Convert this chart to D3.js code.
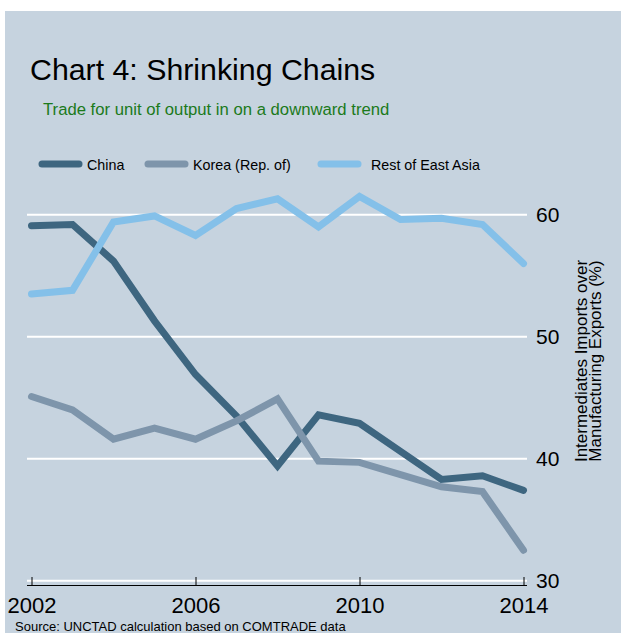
<!DOCTYPE html>
<html>
<head>
<meta charset="utf-8">
<script src="https://cdn.jsdelivr.net/npm/d3@7"></script>
<style>
  html, body { margin: 0; padding: 0; background: #fff; }
  svg { display: block; font-family: "Liberation Sans", Arial, sans-serif; }
</style>
</head>
<body>
<div id="chart"></div>
<script>
// data
const years = [2002, 2003, 2004, 2005, 2006, 2007, 2008, 2009, 2010, 2011, 2012, 2013, 2014];
const china = [59.1, 59.2, 56.2, 51.3, 46.9, 43.5, 39.4, 43.6, 42.9, 40.6, 38.3, 38.6, 37.4];
const korea = [45.1, 44.0, 41.6, 42.5, 41.6, 43.1, 44.9, 39.8, 39.7, 38.7, 37.7, 37.3, 32.5];
const restEastAsia = [53.5, 53.8, 59.4, 59.9, 58.3, 60.5, 61.3, 59.0, 61.5, 59.6, 59.7, 59.2, 56.0];
const seriesNames = ["China", "Korea (Rep. of)", "Rest of East Asia"];
const seriesColors = ["#3e6680", "#7e95ab", "#84c0e9"];
const yTicks = [30, 40, 50, 60];
const xTicks = [2002, 2006, 2010, 2014];

const W = 621, H = 633;
const svg = d3.select("#chart").append("svg")
  .attr("width", W)
  .attr("height", H);

// panel background
svg.append("rect")
  .attr("x", 5).attr("y", 11)
  .attr("width", W - 5).attr("height", H - 11)
  .attr("fill", "#c6d3df");

// titles
svg.append("text")
  .attr("x", 30).attr("y", 80)
  .attr("font-size", 30.3)
  .attr("fill", "#000")
  .text("Chart 4: Shrinking Chains");

svg.append("text")
  .attr("x", 43).attr("y", 115)
  .attr("font-size", 16.7)
  .attr("fill", "#1b7a1b")
  .text("Trade for unit of output in on a downward trend");

// scales
const x = d3.scaleLinear().domain([2002, 2014]).range([31.5, 523.5]);
const y = d3.scaleLinear().domain([30, 60]).range([580.7, 214.7]);

// gridlines
svg.append("g")
  .selectAll("line")
  .data(yTicks)
  .join("line")
  .attr("x1", 27).attr("x2", 527)
  .attr("y1", d => y(d)).attr("y2", d => y(d))
  .attr("stroke", "#fff")
  .attr("stroke-width", 2);

// y axis on the right (labels only)
const yAxis = svg.append("g")
  .attr("transform", "translate(527,0)")
  .call(d3.axisRight(y).tickValues(yTicks).tickSize(0).tickPadding(9));
yAxis.select(".domain").remove();
yAxis.selectAll("text")
  .attr("font-size", 21)
  .attr("font-family", "Liberation Sans, Arial, sans-serif")
  .attr("fill", "#000");

// x axis at the bottom, ticks pointing up
const xAxis = svg.append("g")
  .attr("transform", "translate(0,585)")
  .call(d3.axisBottom(x).tickValues(xTicks).tickFormat(d3.format("d")).tickSize(-8).tickSizeOuter(0).tickPadding(12));
xAxis.select(".domain").attr("d", "M27,0.5H527");
xAxis.selectAll("line").attr("stroke", "#000");
xAxis.selectAll("text")
  .attr("font-size", 22)
  .attr("font-family", "Liberation Sans, Arial, sans-serif")
  .attr("fill", "#000");

// y axis title
const yTitle = svg.append("text")
  .attr("transform", "translate(587,361) rotate(-90)")
  .attr("text-anchor", "middle")
  .attr("font-size", 17)
  .attr("fill", "#000");
yTitle.append("tspan").attr("x", 0).attr("dy", 0).text("Intermediates Imports over");
yTitle.append("tspan").attr("x", 0).attr("dy", 14).text("Manufacturing Exports (%)");

// lines
const series = [china, korea, restEastAsia];
const line = d3.line()
  .x((d, i) => x(years[i]))
  .y(d => y(d));

svg.append("g")
  .selectAll("path")
  .data(series)
  .join("path")
  .attr("d", d => line(d))
  .attr("fill", "none")
  .attr("stroke", (d, i) => seriesColors[i])
  .attr("stroke-width", 7)
  .attr("stroke-linecap", "round")
  .attr("stroke-linejoin", "miter");

// legend
const legendX = [42, 148, 321];
const legend = svg.append("g")
  .selectAll("g")
  .data(seriesNames)
  .join("g")
  .attr("transform", (d, i) => `translate(${legendX[i]},164)`);
legend.append("line")
  .attr("x1", 0).attr("x2", 37)
  .attr("stroke", (d, i) => seriesColors[i])
  .attr("stroke-width", 7)
  .attr("stroke-linecap", "round");
legend.append("text")
  .attr("x", (d, i) => i === 2 ? 50 : 45)
  .attr("y", 6)
  .attr("font-size", 14.3)
  .attr("fill", "#000")
  .text(d => d);

// source note
svg.append("text")
  .attr("x", 15).attr("y", 631)
  .attr("font-size", 13)
  .attr("fill", "#000")
  .text("Source: UNCTAD calculation based on COMTRADE data");
</script>
</body>
</html>
